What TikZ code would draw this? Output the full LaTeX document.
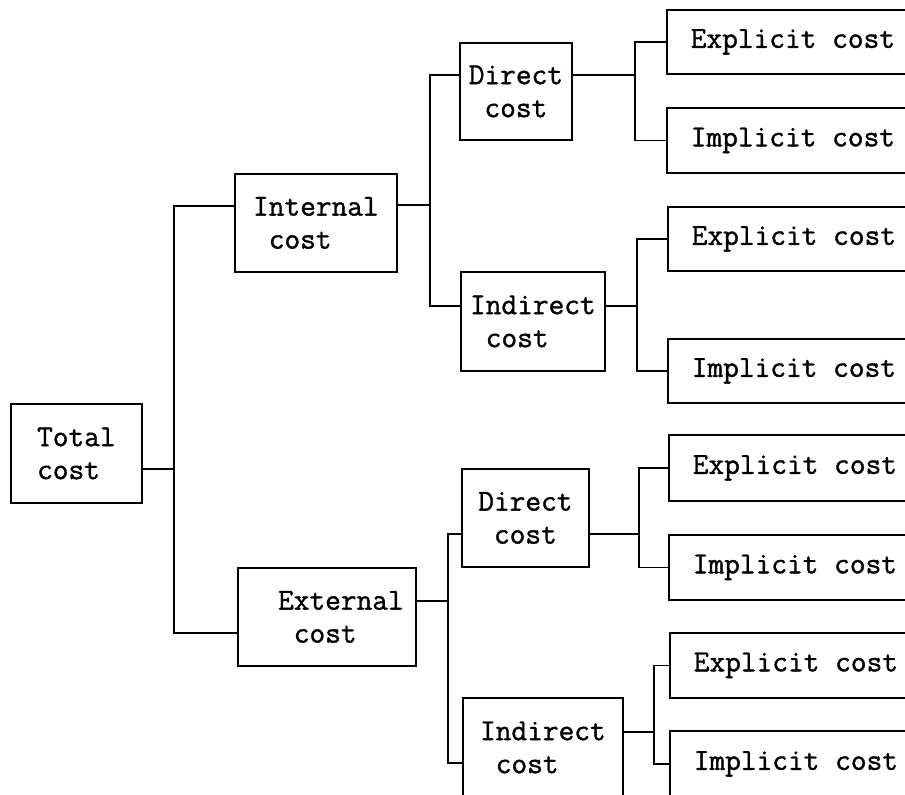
\documentclass[tikz,border=0pt]{standalone}
\usepackage{fontspec}
\setmonofont{Latin Modern Mono}[FakeBold=1.2]
\usepackage{tikz}

\begin{document}
\begin{tikzpicture}[
  x=1pt, y=-1pt,
  every node/.style={rectangle, draw, line width=1.8pt, anchor=north west, align=left,
    font=\ttfamily\fontsize{30.5}{33}\selectfont},
  fork/.style={line width=1.8pt},
  leaf/.style={minimum width=252pt}
]
\useasboundingbox (0,0) rectangle (905,795);
\clip (0,0) rectangle (905,795);

\node[minimum width=131pt, minimum height=99pt] (total) at (10,403) {Total\\cost};
\node[minimum width=162pt, minimum height=98pt] (int) at (234,173) {Internal\\\hphantom{c}cost};
\node[minimum width=178pt, minimum height=98pt] (ext) at (237,567) {\hspace*{28pt}External\\\hspace*{28pt}\hphantom{c}cost};

\node[minimum width=112pt, minimum height=97pt] (dir1) at (459,42) {Direct\\\hphantom{c}cost};
\node[minimum width=144pt, minimum height=99pt] (ind1) at (460,271) {Indirect\\\hphantom{c}cost};
\node[minimum width=127pt, minimum height=98pt] (dir2) at (461,468) {Direct\\\hphantom{c}cost};
\node[minimum width=160pt, minimum height=99pt] (ind2) at (462,697) {Indirect\\\hphantom{c}cost};

\node[leaf, minimum height=64pt] (exp1) at (666,9) {Explicit cost};
\node[leaf, minimum height=65pt] (imp1) at (666,107) {Implicit cost};
\node[leaf, minimum height=64pt] (exp2) at (667,206) {Explicit cost};
\node[leaf, minimum height=64pt] (imp2) at (667,338) {Implicit cost};
\node[leaf, minimum height=66pt] (exp3) at (668,434) {Explicit cost};
\node[leaf, minimum height=65pt] (imp3) at (668,534) {Implicit cost};
\node[leaf, minimum height=65pt] (exp4) at (669,632) {Explicit cost};
\node[leaf, minimum height=66pt] (imp4) at (669,730) {Implicit cost};

% total cost
\draw[fork] ([yshift=-15.5pt]total.east) -- ++(31,0) coordinate (totalfork);
\draw[fork] ([yshift=17pt]int.west) -| (totalfork) |- ([yshift=-16pt]ext.west);

% internal / external
\draw[fork] ([yshift=18pt]int.east) -- ++(32,0) coordinate (intfork);
\draw[fork] ([yshift=16.5pt]dir1.west) -| (intfork) |- ([yshift=15.5pt]ind1.west);
\draw[fork] ([yshift=16pt]ext.east) -- ++(31,0) coordinate (extfork);
\draw[fork] ([yshift=-16pt]dir2.west) -| (extfork) |- ([yshift=-15.5pt]ind2.west);

% direct / indirect
\draw[fork] ([yshift=16.5pt]dir1.east) -- ++(62,0) coordinate (dirfork1);
\draw[fork] (exp1.west) -| (dirfork1) |- (imp1.west);
\draw[fork] ([yshift=15.5pt]ind1.east) -- ++(31,0) coordinate (indfork1);
\draw[fork] (exp2.west) -| (indfork1) |- (imp2.west);
\draw[fork] ([yshift=-16pt]dir2.east) -- ++(49,0) coordinate (dirfork2);
\draw[fork] (exp3.west) -| (dirfork2) |- (imp3.west);
\draw[fork] ([yshift=15.5pt]ind2.east) -- ++(30,0) coordinate (indfork2);
\draw[fork] (exp4.west) -| (indfork2) |- (imp4.west);
\end{tikzpicture}
\end{document}
